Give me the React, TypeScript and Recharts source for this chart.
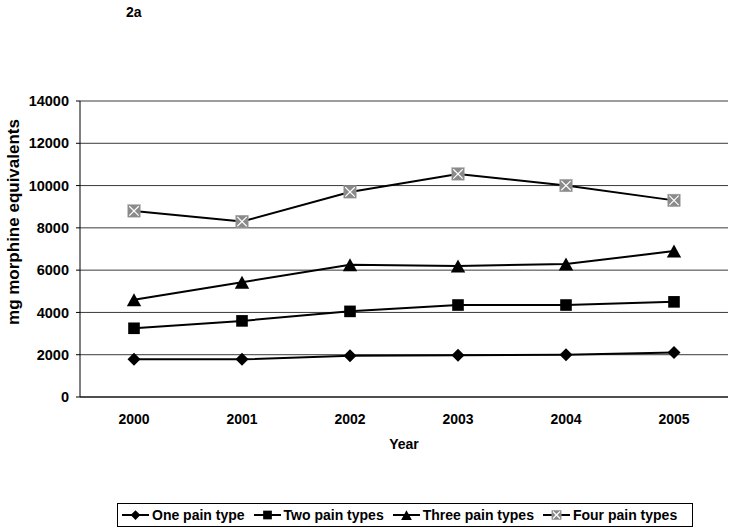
import React from 'react';
import { LineChart, Line, XAxis, YAxis, CartesianGrid } from 'recharts';

const years = ['2000', '2001', '2002', '2003', '2004', '2005'];
const onePain = [1780, 1780, 1950, 1980, 2000, 2100];
const twoPain = [3250, 3600, 4050, 4350, 4350, 4500];
const threePain = [4600, 5430, 6250, 6200, 6290, 6900];
const fourPain = [8800, 8300, 9700, 10550, 10000, 9300];
const yTicks = [0, 2000, 4000, 6000, 8000, 10000, 12000, 14000];
const boundaryTicks = [0, 1, 2, 3, 4, 5, 6];

const seriesNames = ['One pain type', 'Two pain types', 'Three pain types', 'Four pain types'];
const seriesKeys = ['one', 'two', 'three', 'four'];
const seriesShapes = ['diamond', 'square', 'triangle', 'xsquare'];

const data = years.map((y, i) => ({
  year: y,
  one: onePain[i],
  two: twoPain[i],
  three: threePain[i],
  four: fourPain[i],
}));

const FONT = '"Liberation Sans", Arial, sans-serif';

function Marker({ shape, cx, cy, s = 1 }: { shape: string; cx: number; cy: number; s?: number }) {
  if (shape === 'diamond') {
    const r = 6.5 * s;
    return <polygon points={`${cx},${cy - r} ${cx + r},${cy} ${cx},${cy + r} ${cx - r},${cy}`} fill="#000" />;
  }
  if (shape === 'square') {
    const r = 5.8 * s;
    return <rect x={cx - r} y={cy - r} width={2 * r} height={2 * r} fill="#000" />;
  }
  if (shape === 'triangle') {
    const w = 7.2 * s, h = 6.5 * s;
    return <polygon points={`${cx},${cy - h} ${cx + w},${cy + h} ${cx - w},${cy + h}`} fill="#000" />;
  }
  const r = 6.2 * s;
  const p = 1.5 * s;
  return (
    <g>
      <rect x={cx - r} y={cy - r} width={2 * r} height={2 * r} fill="#8a8a8a" stroke="#a0a0a0" strokeWidth={0.5} />
      <line x1={cx - r + p} y1={cy - r + p} x2={cx + r - p} y2={cy + r - p} stroke="#fff" strokeWidth={1.2} />
      <line x1={cx + r - p} y1={cy - r + p} x2={cx - r + p} y2={cy + r - p} stroke="#fff" strokeWidth={1.2} />
    </g>
  );
}

const makeDot = (shape: string) => (props: any) => {
  const { cx, cy, index } = props;
  if (cx == null || cy == null) return <g key={`e-${shape}-${index}`} />;
  return (
    <g key={`${shape}-${index}`}>
      <Marker shape={shape} cx={cx} cy={cy} />
    </g>
  );
};

const YLabel = (props: any) => {
  const vb = props.viewBox;
  const x = vb.x + 15;
  const y = vb.y + vb.height / 2 - 27;
  return (
    <text
      x={x}
      y={y}
      transform={`rotate(-90, ${x}, ${y})`}
      textAnchor="middle"
      dominantBaseline="middle"
      fontFamily={FONT}
      fontWeight="bold"
      fontSize={17}
      fill="#000"
    >
      mg morphine equivalents
    </text>
  );
};

const XLabel = (props: any) => {
  const vb = props.viewBox;
  return (
    <text
      x={vb.x + vb.width / 2}
      y={vb.y + 48}
      textAnchor="middle"
      dominantBaseline="middle"
      fontFamily={FONT}
      fontWeight="bold"
      fontSize={14}
      fill="#000"
    >
      Year
    </text>
  );
};

export default function App() {
  const xTickStyle = { fontFamily: FONT, fontWeight: 'bold' as const, fontSize: 14, fill: '#000' };
  const yTickStyle = { fontFamily: FONT, fontWeight: 'bold' as const, fontSize: 14.5, fill: '#000' };
  return (
    <div style={{ position: 'absolute', left: 0, top: 0, width: 735, height: 531, background: '#fff' }}>
      <div
        style={{
          position: 'absolute',
          left: 126,
          top: 4,
          fontFamily: FONT,
          fontWeight: 'bold',
          fontSize: 14,
        }}
      >
        2a
      </div>
      <LineChart
        width={735}
        height={531}
        data={data}
        margin={{ top: 101, right: 7, bottom: 74, left: 0 }}
      >
        <CartesianGrid vertical={false} stroke="#3a3a3a" strokeWidth={1} />
        <XAxis
          xAxisId="bounds"
          type="number"
          domain={[0, 6]}
          ticks={boundaryTicks}
          tick={false}
          tickLine={{ stroke: '#000' }}
          tickSize={4}
          axisLine={false}
          height={0}
          allowDataOverflow
        />
        <XAxis
          dataKey="year"
          scale="band"
          tickLine={false}
          tickSize={4}
          tickMargin={13}
          axisLine={{ stroke: '#000' }}
          tick={xTickStyle}
          height={60}
          interval={0}
          label={<XLabel />}
        />
        <YAxis
          domain={[0, 14000]}
          ticks={yTicks}
          tickSize={4}
          tickMargin={7}
          tickLine={{ stroke: '#000' }}
          axisLine={{ stroke: '#000' }}
          tick={yTickStyle}
          width={80}
          interval={0}
          label={<YLabel />}
        />
        <YAxis
          yAxisId="right"
          orientation="right"
          domain={[0, 14000]}
          tick={false}
          tickLine={false}
          axisLine={{ stroke: '#000' }}
          width={0}
        />
        {seriesKeys.map((k, i) => (
          <Line
            key={k}
            dataKey={k}
            name={seriesNames[i]}
            stroke="#000"
            strokeWidth={2}
            dot={makeDot(seriesShapes[i])}
            activeDot={false}
            isAnimationActive={false}
          />
        ))}
      </LineChart>
      <div
        style={{
          position: 'absolute',
          left: 117,
          top: 503,
          width: 576,
          height: 24,
          boxSizing: 'border-box',
          border: '1px solid #000',
          display: 'flex',
          alignItems: 'center',
          justifyContent: 'flex-start',
          paddingLeft: 4,
          gap: 9,
          fontFamily: FONT,
          fontWeight: 'bold',
          fontSize: 14,
          whiteSpace: 'nowrap',
        }}
      >
        {seriesNames.map((n, i) => (
          <div key={n} style={{ display: 'flex', alignItems: 'center' }}>
            <svg width={27} height={16} style={{ marginRight: 3 }}>
              <line x1={0} y1={8} x2={27} y2={8} stroke="#000" strokeWidth={2} />
              <Marker shape={seriesShapes[i]} cx={13.5} cy={8} s={0.75} />
            </svg>
            <span>{n}</span>
          </div>
        ))}
      </div>
    </div>
  );
}
